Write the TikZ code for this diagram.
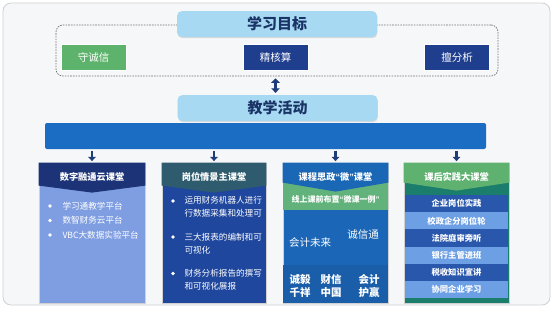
\documentclass[tikz,border=0pt]{standalone}
\usepackage{fontspec}
\setmainfont{Noto Sans CJK SC}
\newfontfamily\latq{Liberation Sans}
\usetikzlibrary{arrows.meta,shadows,calc}
\definecolor{frameBg}{HTML}{F6F7F8}
\definecolor{frameLn}{HTML}{CDD1D5}
\definecolor{skyBox}{HTML}{A7DAF2}
\definecolor{navyTxt}{HTML}{1B3468}
\definecolor{goodGreen}{HTML}{5DB36B}
\definecolor{navyBox}{HTML}{1F3F8E}
\definecolor{barBlue}{HTML}{1B6DC3}
\definecolor{arrNavy}{HTML}{1E3C78}
\definecolor{cOneHead}{HTML}{1D3377}
\definecolor{cOneBody}{HTML}{7F9EE2}
\definecolor{cTwoHead}{HTML}{2E5B6E}
\definecolor{cTwoBody}{HTML}{1F479E}
\definecolor{cThrHead}{HTML}{1A67B6}
\definecolor{cThrBand}{HTML}{62B27B}
\definecolor{cThrBody}{HTML}{1B66B6}
\definecolor{cThrLow}{HTML}{1A5DA8}
\definecolor{cFouHead}{HTML}{5EB16F}
\definecolor{cFouBand}{HTML}{1B7D6B}
\definecolor{cFouDark}{HTML}{2957AC}
\definecolor{cFouLight}{HTML}{6C9FE4}
\newcommand{\hdrshape}[4]{\fill[#2] (#1.north west) -- (#1.north east) -- ($(#1.north east)+(0,#3)$) -- ($(#1.north)+(0,#4)$) -- ($(#1.north west)+(0,#3)$) -- cycle;}
\newcommand{\myLq}{{\latq “}}
\newcommand{\myRq}{{\latq ”}}
\begin{document}
\begin{tikzpicture}[x=1pt,y=-1pt,
  skybox/.style={fill=skyBox, rounded corners=5pt, text=navyTxt, minimum width=200pt, minimum height=26pt,
    font=\fontsize{15}{18}\selectfont\bfseries,
    drop shadow={opacity=0.25, shadow xshift=0.4pt, shadow yshift=-1.2pt}},
  goalbox/.style={draw=white, line width=0.8pt, minimum width=65pt, minimum height=26pt, text=white,
    font=\fontsize{10.5}{12}\selectfont,
    drop shadow={opacity=0.3, shadow xshift=0.5pt, shadow yshift=-0.8pt}},
  dashbox/.style={draw=black!55, dash pattern=on 1.6pt off 1.1pt, line width=0.7pt, rounded corners=7pt},
  colbox/.style={draw=black!18, line width=0.8pt, minimum height=140pt},
  dbl/.style={arrNavy, line width=3pt, {Triangle[width=8.5pt,length=4.5pt]}-{Triangle[width=8.5pt,length=4.5pt]}},
  downarr/.style={arrNavy, line width=2.5pt, -{Triangle[width=7.5pt,length=4.2pt]}},
  hdrtxt/.style={text=white, font=\fontsize{9.2}{11}\selectfont\bfseries},
  itemtxt/.style={text=white, anchor=west, align=left, font=\fontsize{8.6}{12.6}\selectfont},
  bigtxt/.style={text=white, font=\fontsize{10.5}{12.8}\selectfont},
  rowbox/.style={minimum width=103pt, minimum height=17.2pt, inner sep=0pt, text=white, font=\fontsize{8.3}{10}\selectfont\bfseries},
  dotbul/.style={circle, fill=white, inner sep=0pt, minimum size=3.6pt}
]
\fill[white] (0,0) rectangle (553,311);
\useasboundingbox (0,0) rectangle (553,311);
\draw[fill=frameBg, draw=frameLn, line width=0.8pt, rounded corners=8pt] (3,3) rectangle (550,305);

% goals
\node[dashbox, minimum width=442pt, minimum height=51pt] (goals) at (277,50.5) {};
\node[skybox] (goal) at (277,24) {学习目标};
\node[goalbox, fill=goodGreen] (g1) at (93.5,57) {守诚信};
\node[goalbox, fill=navyBox] (g2) at (275.5,57) {精核算};
\node[goalbox, fill=navyBox] (g3) at (457,57) {擅分析};
\node[skybox] (act) at (277.5,108) {教学活动};
\draw[dbl, shorten <=2pt, shorten >=2pt] (goals.south -| g2) -- (act.north -| g2);

% bar
\node[fill=barBlue, rounded corners=2pt, minimum width=441pt, minimum height=26pt] (bar) at (265.5,136) {};

% columns
\node[colbox, fill=cOneBody, minimum width=106pt] (c1) at (92,233) {};
\node[colbox, fill=cTwoBody, minimum width=104pt] (c2) at (214,233) {};
\node[colbox, fill=cThrBody, minimum width=105pt] (c3) at (335.5,233) {};
\node[colbox, fill=cFouBand, minimum width=105pt] (c4) at (456.5,233) {};

\foreach \c in {c1,c2,c3,c4} {
  \draw[downarr, shorten <=1.5pt, shorten >=1.5pt] (bar.south -| \c) -- (\c.north);
}

% column 1
\hdrshape{c1}{cOneHead}{23}{30}
\node[hdrtxt] (h1) at (92,177) {数字融通云课堂};
\node[dotbul] (b11) at (50,206) {};
\node[itemtxt] (t11) at (59,206) {学习通教学平台};
\node[dotbul] (b12) at (50,220.5) {};
\node[itemtxt] (t12) at (59,220.5) {数智财务云平台};
\node[dotbul] (b13) at (50,235) {};
\node[itemtxt] (t13) at (59,235) {VBC大数据实验平台};

% column 2
\hdrshape{c2}{cTwoHead}{23}{30}
\node[hdrtxt] (h2) at (214,177) {岗位情景主课堂};
\node[dotbul] (b21) at (173,201) {};
\node[itemtxt] (t21) at (181,207) {运用财务机器人进行\\行数据采集和处理可};
\node[dotbul] (b22) at (173,237) {};
\node[itemtxt] (t22) at (181,243.5) {三大报表的编制和可\\可视化};
\node[dotbul] (b23) at (173,273.5) {};
\node[itemtxt] (t23) at (181,280) {财务分析报告的撰写\\和可视化展报};

% column 3
\fill[cThrBand] ($(c3.north west)+(0.4,18)$) rectangle ($(c3.north east)+(-0.4,47)$);
\fill[cThrLow] ($(c3.north west)+(0.4,102)$) rectangle ($(c3.south east)+(-0.4,-0.4)$);
\hdrshape{c3}{cThrHead}{20}{29}
\node[hdrtxt] (h3) at (335.5,177) {课程思政\myLq 微\myRq 课堂};
\node[text=white, font=\fontsize{8}{10}\selectfont\bfseries] (t30) at (335.5,199) {线上课前布置\myLq 微课一例\myRq};
\node[bigtxt] (t31) at (363,235) {诚信通};
\node[bigtxt] (t32) at (310,243) {会计未来};
\node[bigtxt, align=center, font=\fontsize{10.5}{12.8}\selectfont\bfseries] (t33) at (300,286) {诚毅\\千祥};
\node[bigtxt, align=center, font=\fontsize{10.5}{12.8}\selectfont\bfseries] (t34) at (331,286) {财信\\中国};
\node[bigtxt, align=center, font=\fontsize{10.5}{12.8}\selectfont\bfseries] (t35) at (369,286) {会计\\护赢};

% column 4
\hdrshape{c4}{cFouHead}{20}{28}
\node[hdrtxt] (h4) at (456.5,177) {课后实践大课堂};
\node[rowbox, fill=cFouDark]  (r1) at (456.5,203.6) {企业岗位实践};
\node[rowbox, fill=cFouLight] (r2) at (456.5,220.8) {校政企分岗位轮};
\node[rowbox, fill=cFouDark]  (r3) at (456.5,238.0) {法院庭审旁听};
\node[rowbox, fill=cFouLight] (r4) at (456.5,255.2) {银行主管进班};
\node[rowbox, fill=cFouDark]  (r5) at (456.5,272.4) {税收知识宣讲};
\node[rowbox, fill=cFouLight] (r6) at (456.5,289.6) {协同企业学习};
\end{tikzpicture}
\end{document}
